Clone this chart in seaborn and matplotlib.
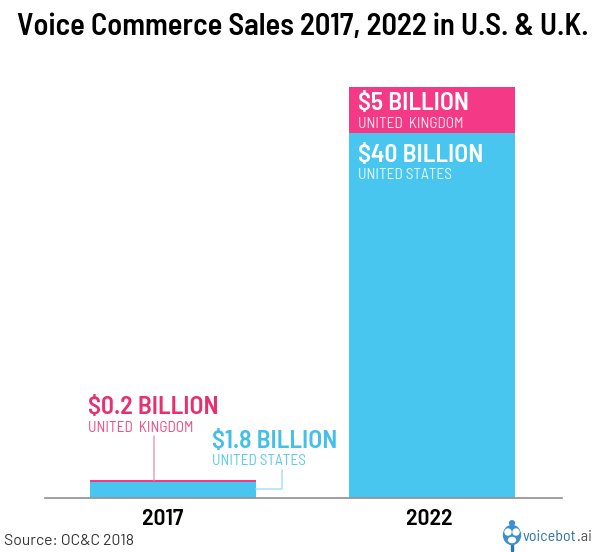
import seaborn as sns
import matplotlib.pyplot as plt
from matplotlib.patches import Circle, Ellipse, Rectangle
from matplotlib.transforms import ScaledTranslation

years = ['2017', '2022']
us_sales = [1.8, 40]
uk_sales = [0.2, 5]

BLUE = '#49c6f0'
PINK = '#f43a86'
TEXT_PINK = '#e8306f'
TEXT_BLUE = '#45bfe9'
W, H = 600, 552

sns.set_style('white')
# Barlow is not on the guaranteed font list, so fall back to the listed ones
plt.rcParams['font.family'] = ['Barlow', 'Roboto', 'DejaVu Sans']
SEMI = ['Barlow Semi Condensed', 'Barlow', 'Roboto', 'DejaVu Sans']


def fx(x):
    return x / W


def fy(y):
    return 1 - y / H


fig = plt.figure(figsize=(6, 5.52), dpi=100)
ax = fig.add_axes([fx(45), fy(498), fx(562 - 45), (498 - 87) / H])

sns.barplot(x=years, y=us_sales, color=BLUE, width=0.64, saturation=1, linewidth=0, ax=ax)
sns.barplot(x=years, y=uk_sales, bottom=us_sales, color=PINK, width=0.64, saturation=1, linewidth=0, ax=ax)

ax.set_xlim(-0.494, 1.502)
ax.set_ylim(0, 45)
ax.set_yticks([])
ax.set_xlabel('')
ax.set_ylabel('')
ax.tick_params(axis='x', length=0, pad=8, labelsize=17)
# the year labels sit a little left of the bar centres
for lab, dx in zip(ax.get_xticklabels(), [-10, -3]):
    lab.set_fontweight(600)
    lab.set_family(SEMI)
    lab.set_color('black')
    lab.set_transform(lab.get_transform() + ScaledTranslation(dx / 100, 0, fig.dpi_scale_trans))
sns.despine(ax=ax, left=True)
ax.spines['bottom'].set_color('#8f8f8f')
ax.spines['bottom'].set_linewidth(1.2)

fig.text(fx(303), fy(27), 'Voice Commerce Sales 2017, 2022 in U.S. & U.K.',
         ha='center', va='center', fontsize=22, fontweight=600, color='black', family=SEMI)


def label(x, y, big, small, color):
    fig.text(fx(x), fy(y), big, ha='left', va='center', fontsize=18.5, fontweight=600, color=color, family=SEMI)
    fig.text(fx(x), fy(y + 20), small, ha='left', va='center', fontsize=11, color=color, alpha=0.85, family=SEMI)


label(88, 408, '$0.2 BILLION', 'UNITED  KINGDOM', TEXT_PINK)
label(212, 441, '$1.8 BILLION', 'UNITED STATES', TEXT_BLUE)
label(358, 104, '$5 BILLION', 'UNITED  KINGDOM', 'white')
label(358, 155, '$40 BILLION', 'UNITED STATES', 'white')

# leader lines
fig.add_artist(plt.Line2D([fx(154), fx(154)], [fy(436), fy(480)], color='#f29bbd', lw=1.1))
fig.add_artist(plt.Line2D([fx(256), fx(282), fx(282)], [fy(489), fy(489), fy(470)], color='#a5e2f6', lw=1.1))

fig.text(fx(4), fy(541), 'Source: OC&C 2018', ha='left', va='center', fontsize=11.3, color='#333333')

# voicebot logo
fig.text(fx(523), fy(537), 'voicebot', ha='left', va='center', fontsize=11.5, color='#2f78a8', family=SEMI)
fig.text(fx(577), fy(537), '.ai', ha='left', va='center', fontsize=11.5, color='#555555', family=SEMI)
fig.add_artist(Rectangle((fx(511), fy(551)), 2 / W, 8 / H, color='#2f78a8', transform=fig.transFigure))
fig.add_artist(Ellipse((fx(512), fy(535)), 17 / W, 19 / H, color='#3f8fd0', transform=fig.transFigure))
fig.add_artist(Circle((fx(512), fy(523)), 0.004, color='#3f8fd0', transform=fig.transFigure))
fig.add_artist(Ellipse((fx(508), fy(532)), 6 / W, 6 / H, color='white', transform=fig.transFigure))
fig.add_artist(Ellipse((fx(516), fy(532)), 6 / W, 6 / H, color='white', transform=fig.transFigure))
fig.add_artist(Ellipse((fx(512), fy(540)), 7 / W, 5 / H, color='white', transform=fig.transFigure))

fig.savefig('out.png', dpi=100)
